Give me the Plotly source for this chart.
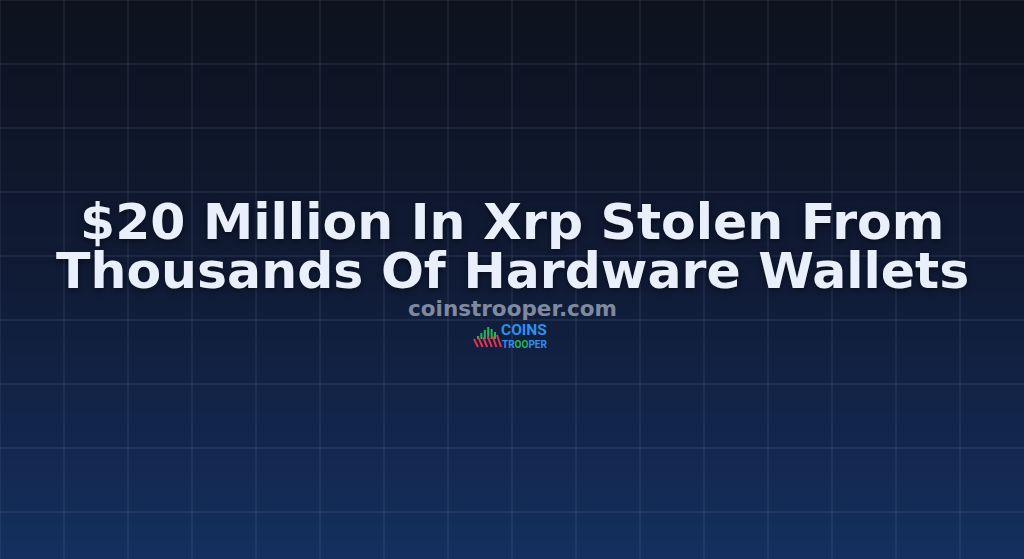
import plotly.graph_objects as go

# Texte de la carte
title_lines = ["$20 Million In Xrp Stolen From", "Thousands Of Hardware Wallets"]
site_name = "coinstrooper.com"
logo_top = "COINS"
logo_bottom = "TR<span style='color:#22b35a'>OO</span>PER"

# Fond en dégradé (haut -> bas)
bg_levels = [0, 0.5, 1]
bg_colors = ["#0d121d", "#101b36", "#14305f"]
grid_step = 64

W, H = 1024, 559

fig = go.Figure()

# dégradé vertical via heatmap lissée
fig.add_trace(go.Heatmap(
    x=[0, W], y=[0, H / 2, H],
    z=[[v, v] for v in bg_levels],
    zsmooth="best", showscale=False, hoverinfo="skip",
    colorscale=[[v, c] for v, c in zip(bg_levels, bg_colors)],
))

# quadrillage
for gx in range(0, W, grid_step):
    fig.add_vline(x=gx, line_color="rgba(148,163,200,0.2)", line_width=1)
for gy in range(0, H, grid_step):
    fig.add_hline(y=gy, line_color="rgba(148,163,200,0.2)", line_width=1)

# titre, deux lignes (interligne serré comme l'original)
for i, line in enumerate(title_lines):
    fig.add_annotation(
        x=0.5, y=[221, 270][i], xref="paper", yref="y",
        text="<b>" + line + "</b>", showarrow=False, borderpad=0,
        font=dict(family="DejaVu Sans", size=50.5, color="#e9effb",
                  shadow="0px 2px 6px rgba(0,0,0,0.5)"),
    )

fig.add_annotation(
    x=0.5, y=308, xref="paper", yref="y", text="<b>" + site_name + "</b>",
    showarrow=False, borderpad=0,
    font=dict(family="DejaVu Sans", size=21.5, color="#7f899f"),
)

# logo
fig.add_annotation(x=500, y=330, xref="x", yref="y", xanchor="left",
                   text="<b>" + logo_top + "</b>", showarrow=False, borderpad=0,
                   font=dict(family="Roboto", size=15.5, color="#2f8ff0"))
fig.add_annotation(x=501, y=344, xref="x", yref="y", xanchor="left",
                   text="<b>" + logo_bottom + "</b>", showarrow=False, borderpad=0,
                   font=dict(family="Roboto", size=10, color="#2f8ff0"))
green_tops = [336, 333, 330, 327, 329, 332]
for k, top in enumerate(green_tops):
    gx = 478 + k * 3.4
    fig.add_shape(type="line", x0=gx, x1=gx, y0=339, y1=top,
                  line=dict(color="#1fb85a", width=2))
for k in range(6):
    fig.add_shape(type="line", x0=474 + k * 4.6, x1=478 + k * 4.6, y0=339 - k * 0.8, y1=347,
                  line=dict(color="#e8334a", width=2))

fig.update_xaxes(range=[0, W], showgrid=False, zeroline=False, showticklabels=False, visible=False)
fig.update_yaxes(range=[H, 0], showgrid=False, zeroline=False, showticklabels=False, visible=False)
fig.update_layout(
    width=W, height=H, margin=dict(l=0, r=0, t=0, b=0),
    paper_bgcolor="#0d121d", plot_bgcolor="#0d121d", showlegend=False,
)

fig.write_html("out.html", config={"displayModeBar": False},
               post_script="document.body.style.margin='0';")
